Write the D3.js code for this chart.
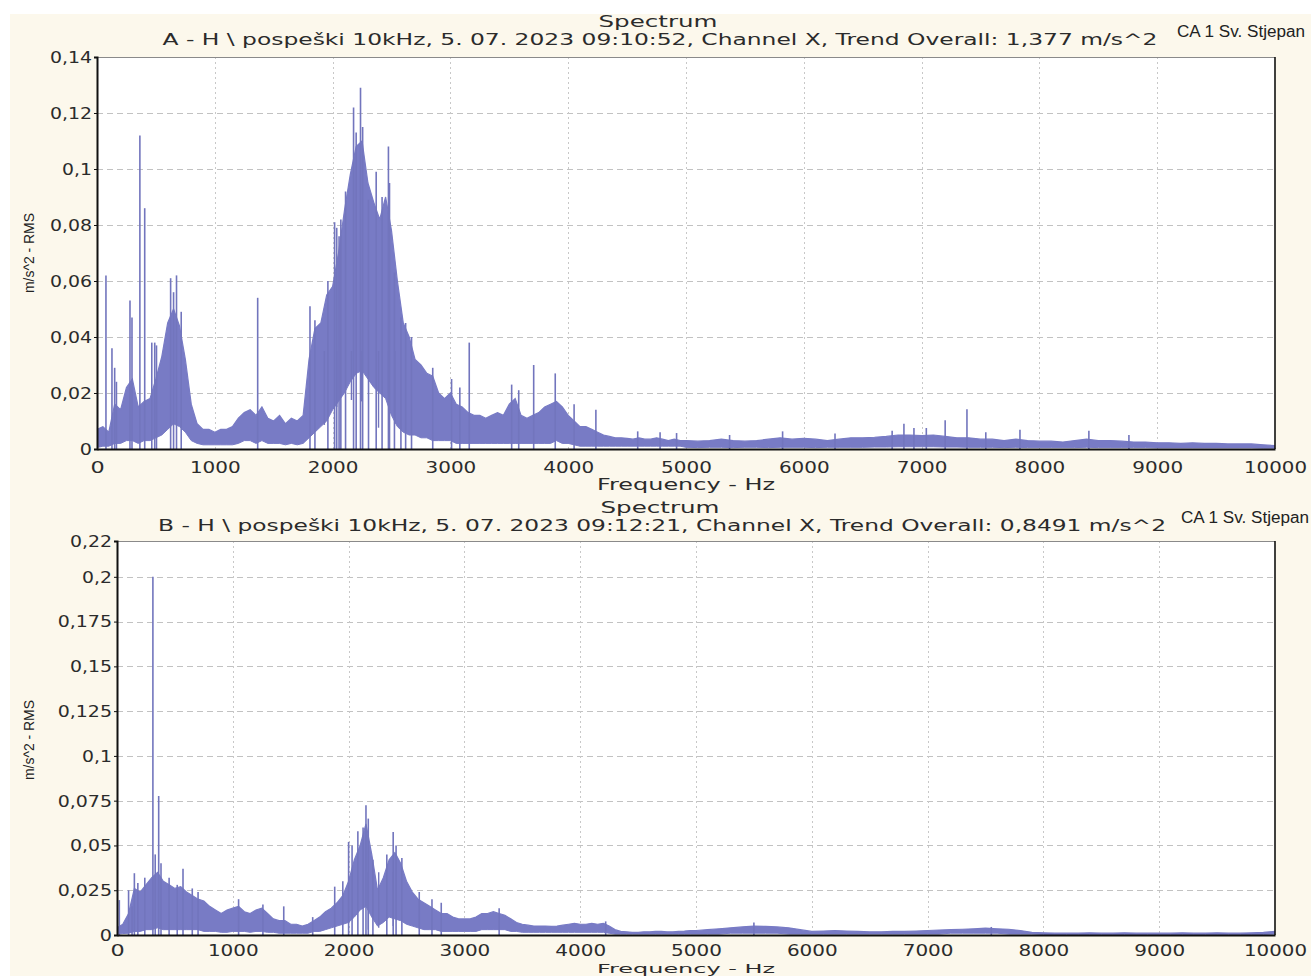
<!DOCTYPE html>
<html>
<head>
<meta charset="utf-8">
<script src="https://cdn.jsdelivr.net/npm/d3@7"></script>
<style>
  html, body { margin: 0; padding: 0; background: #ffffff; }
  svg { display: block; }
</style>
</head>
<body>
<svg id="chart" width="1311" height="976"></svg>
<script>
// ---------------- DATA ----------------
// frequency grid (Hz): 50 Hz steps up to 4950, then 100 Hz steps to 10000
const freqGrid = d3.range(0, 5000, 50).concat(d3.range(5000, 10001, 100));

// Chart A: upper / lower envelope of the spectrum band (m/s^2 RMS)
const hiA = [
  0.007, 0.008, 0.006, 0.016, 0.014, 0.022, 0.025, 0.015, 0.017, 0.018,
  0.025, 0.033, 0.045, 0.05, 0.044, 0.032, 0.016, 0.009, 0.007, 0.007,
  0.006, 0.007, 0.007, 0.008, 0.011, 0.013, 0.014, 0.012, 0.015, 0.011,
  0.01, 0.012, 0.009, 0.011, 0.01, 0.012, 0.032, 0.043, 0.045, 0.055,
  0.058, 0.07, 0.085, 0.098, 0.108, 0.11, 0.095, 0.088, 0.082, 0.09,
  0.078, 0.06, 0.045, 0.04, 0.032, 0.03, 0.027, 0.026, 0.02, 0.018,
  0.02, 0.016, 0.015, 0.013, 0.012, 0.012, 0.011, 0.012, 0.013, 0.012,
  0.016, 0.018, 0.012, 0.011, 0.012, 0.013, 0.015, 0.016, 0.017, 0.015,
  0.012, 0.01, 0.008, 0.008, 0.007, 0.006, 0.005, 0.0045, 0.004, 0.004,
  0.0038, 0.0035, 0.004, 0.0035, 0.0035, 0.004, 0.0035, 0.003, 0.0035, 0.003,
  0.003, 0.0028, 0.003, 0.0035, 0.003, 0.0028, 0.003, 0.0035, 0.004, 0.0035,
  0.0038, 0.0035, 0.003, 0.0035, 0.004, 0.004, 0.0042, 0.0045, 0.005, 0.005,
  0.0048, 0.005, 0.0045, 0.004, 0.004, 0.0035, 0.0035, 0.003, 0.0035, 0.003,
  0.0028, 0.0028, 0.0025, 0.003, 0.0035, 0.003, 0.003, 0.0028, 0.0025, 0.0025,
  0.0022, 0.0022, 0.002, 0.0022, 0.002, 0.002, 0.0018, 0.0018, 0.0018, 0.0015,
  0.0012
];
const loA = [
  0.0005, 0.001, 0.001, 0.002, 0.002, 0.003, 0.003, 0.002, 0.003, 0.003,
  0.004, 0.005, 0.007, 0.009, 0.008, 0.006, 0.003, 0.002, 0.0015, 0.0015,
  0.0015, 0.0015, 0.0015, 0.0015, 0.002, 0.003, 0.003, 0.002, 0.003, 0.002,
  0.002, 0.002, 0.0015, 0.002, 0.0015, 0.002, 0.004, 0.006, 0.008, 0.01,
  0.014, 0.017, 0.02, 0.024, 0.027, 0.028, 0.025, 0.022, 0.02, 0.018,
  0.012, 0.008, 0.006, 0.005, 0.005, 0.004, 0.004, 0.003, 0.003, 0.003,
  0.003, 0.002, 0.002, 0.002, 0.002, 0.002, 0.002, 0.002, 0.002, 0.002,
  0.002, 0.002, 0.002, 0.002, 0.002, 0.002, 0.002, 0.002, 0.003, 0.002,
  0.002, 0.0015, 0.001, 0.001, 0.001, 0.001, 0.001, 0.001, 0.001, 0.001,
  0.001, 0.001, 0.001, 0.001, 0.001, 0.001, 0.001, 0.001, 0.001, 0.001,
  0.0006, 0.0005, 0.0006, 0.0006, 0.0005, 0.0006, 0.0006, 0.0005, 0.0006, 0.0006,
  0.0006, 0.0005, 0.0006, 0.0006, 0.0006, 0.0006, 0.0007, 0.0007, 0.0008, 0.0008,
  0.0008, 0.0008, 0.0007, 0.0007, 0.0006, 0.0006, 0.0006, 0.0005, 0.0006, 0.0005,
  0.0005, 0.0005, 0.0005, 0.0005, 0.0006, 0.0005, 0.0005, 0.0005, 0.0005, 0.0005,
  0.0004, 0.0004, 0.0004, 0.0004, 0.0004, 0.0004, 0.0004, 0.0004, 0.0004, 0.0003,
  0.0003
];
// Chart A: narrow spectral lines rising above the band (Hz, m/s^2)
const spikeFreqA = [76, 127, 150, 165, 280, 297, 364, 405, 465, 490, 505, 625, 650, 675, 715,
  1364, 1808, 1850, 1960, 2017, 2035, 2055, 2070, 2110, 2178, 2200, 2237, 2255, 2305, 2370,
  2420, 2474, 2483, 2525, 2580, 2620, 2670, 2850, 3010, 3080, 3160, 3520, 3580, 3707, 3890,
  4050, 4235, 4590, 4780, 4920, 5370, 5820, 6265, 6750, 6850, 6935, 7040, 7200, 7385, 7545,
  7835, 8420, 8760];
const spikeValA = [0.062, 0.036, 0.029, 0.024, 0.053, 0.047, 0.112, 0.086, 0.038, 0.038, 0.037, 0.061, 0.056, 0.062, 0.049,
  0.054, 0.051, 0.046, 0.06, 0.081, 0.079, 0.076, 0.082, 0.092, 0.122, 0.113, 0.129, 0.115, 0.089, 0.099,
  0.09, 0.108, 0.095, 0.063, 0.047, 0.045, 0.04, 0.029, 0.025, 0.022, 0.038, 0.023, 0.021, 0.03, 0.027,
  0.016, 0.014, 0.0063, 0.006, 0.0057, 0.005, 0.0063, 0.0055, 0.0065, 0.009, 0.0075, 0.0075, 0.0103, 0.0142, 0.006,
  0.0069, 0.0065, 0.005];
// Chart A: lines dropping below the band's lower edge (Hz, m/s^2)
const dipFreqA = [1930, 2035, 2160, 2245, 2390, 2475, 2530];
const dipValA = [0.0086, 0.015, 0.0175, 0.017, 0.0076, 0.02, 0.009];

// Chart B
const hiB = [
  0.004, 0.006, 0.012, 0.026, 0.024, 0.028, 0.032, 0.035, 0.03, 0.028,
  0.026, 0.027, 0.024, 0.022, 0.02, 0.019, 0.016, 0.014, 0.012, 0.014,
  0.015, 0.016, 0.013, 0.012, 0.014, 0.015, 0.012, 0.009, 0.008, 0.008,
  0.006, 0.006, 0.005, 0.006, 0.008, 0.01, 0.013, 0.015, 0.018, 0.022,
  0.03, 0.042, 0.05, 0.062, 0.045, 0.025, 0.032, 0.042, 0.046, 0.04,
  0.03, 0.024, 0.02, 0.018, 0.016, 0.014, 0.012, 0.012, 0.01, 0.009,
  0.009, 0.009, 0.01, 0.012, 0.012, 0.013, 0.012, 0.011, 0.009, 0.007,
  0.006, 0.0055, 0.005, 0.005, 0.005, 0.0048, 0.005, 0.0055, 0.006, 0.0065,
  0.006, 0.006, 0.0065, 0.006, 0.0065, 0.005, 0.003, 0.002, 0.0018, 0.0015,
  0.0015, 0.0018, 0.0018, 0.002, 0.002, 0.0018, 0.0018, 0.002, 0.0022, 0.0025,
  0.0025, 0.003, 0.0035, 0.004, 0.0045, 0.005, 0.0048, 0.0045, 0.004, 0.003,
  0.002, 0.0022, 0.0025, 0.0022, 0.002, 0.0018, 0.0018, 0.002, 0.002, 0.0022,
  0.0025, 0.0028, 0.003, 0.0032, 0.0035, 0.0038, 0.0035, 0.0032, 0.0025, 0.0015,
  0.0012, 0.001, 0.001, 0.001, 0.0012, 0.001, 0.001, 0.0012, 0.001, 0.001,
  0.001, 0.001, 0.0012, 0.001, 0.001, 0.0012, 0.001, 0.001, 0.0012, 0.0015,
  0.002
];
const loB = [
  0.0005, 0.0008, 0.001, 0.002, 0.002, 0.003, 0.003, 0.004, 0.003, 0.003,
  0.003, 0.003, 0.003, 0.003, 0.003, 0.002, 0.002, 0.002, 0.0015, 0.0015,
  0.002, 0.002, 0.002, 0.0015, 0.002, 0.002, 0.0015, 0.0015, 0.001, 0.001,
  0.001, 0.001, 0.001, 0.001, 0.002, 0.002, 0.003, 0.004, 0.005, 0.006,
  0.007, 0.01, 0.014, 0.016, 0.01, 0.005, 0.007, 0.01, 0.009, 0.008,
  0.006, 0.005, 0.004, 0.003, 0.003, 0.003, 0.002, 0.002, 0.002, 0.002,
  0.002, 0.002, 0.002, 0.003, 0.003, 0.003, 0.003, 0.003, 0.002, 0.002,
  0.0015, 0.0015, 0.0015, 0.0015, 0.0015, 0.0015, 0.0015, 0.0015, 0.0015, 0.0015,
  0.0015, 0.0015, 0.0015, 0.0015, 0.0015, 0.001, 0.0005, 0.0005, 0.0005, 0.0005,
  0.0005, 0.0005, 0.0005, 0.0005, 0.0005, 0.0005, 0.0005, 0.0005, 0.0005, 0.0005,
  0.0005, 0.0005, 0.0005, 0.001, 0.001, 0.001, 0.001, 0.001, 0.0005, 0.0005,
  0.0005, 0.0005, 0.0005, 0.0005, 0.0005, 0.0005, 0.0005, 0.0005, 0.0005, 0.0005,
  0.0005, 0.0005, 0.001, 0.001, 0.001, 0.001, 0.001, 0.0005, 0.0005, 0.0005,
  0.0003, 0.0003, 0.0003, 0.0003, 0.0003, 0.0003, 0.0003, 0.0003, 0.0003, 0.0003,
  0.0003, 0.0003, 0.0003, 0.0003, 0.0003, 0.0003, 0.0003, 0.0003, 0.0003, 0.0003,
  0.0005
];
const spikeFreqB = [20, 100, 130, 150, 180, 240, 310, 330, 360, 380, 450, 520, 570, 650, 700,
  1050, 1260, 1440, 1690, 1880, 1950, 2000, 2030, 2080, 2125, 2150, 2170, 2210, 2330, 2385,
  2410, 2460, 2610, 2720, 2800, 3300, 4220, 5500, 7550];
const spikeValB = [0.0195, 0.025, 0.016, 0.0345, 0.029, 0.032, 0.2, 0.045, 0.0776, 0.04, 0.032, 0.028, 0.037, 0.026, 0.024,
  0.02, 0.017, 0.016, 0.01, 0.027, 0.03, 0.052, 0.05, 0.058, 0.06, 0.0725, 0.065, 0.042, 0.045, 0.0575,
  0.05, 0.043, 0.024, 0.02, 0.018, 0.015, 0.0076, 0.007, 0.0045];
const dipFreqB = [2170, 2260, 2385];
const dipValB = [0.003, 0.004, 0.005];

// Axis tick values & labels
const xTicks = [0, 1000, 2000, 3000, 4000, 5000, 6000, 7000, 8000, 9000, 10000];
const yTicksA = [0, 0.02, 0.04, 0.06, 0.08, 0.1, 0.12, 0.14];
const yLabelsA = ["0", "0,02", "0,04", "0,06", "0,08", "0,1", "0,12", "0,14"];
const yTicksB = [0, 0.025, 0.05, 0.075, 0.1, 0.125, 0.15, 0.175, 0.2, 0.22];
const yLabelsB = ["0", "0,025", "0,05", "0,075", "0,1", "0,125", "0,15", "0,175", "0,2", "0,22"];

const titleMain = "Spectrum";
const subtitleA = "A - H \\ pospe\u0161ki 10kHz, 5. 07. 2023 09:10:52, Channel X, Trend Overall: 1,377 m/s^2";
const subtitleB = "B - H \\ pospe\u0161ki 10kHz, 5. 07. 2023 09:12:21, Channel X, Trend Overall: 0,8491 m/s^2";
const siteLabel = "CA 1 Sv. Stjepan";
const xTitle = "Frequency - Hz";
const yTitle = "m/s^2 - RMS";

// ---------------- DRAW ----------------
const svg = d3.select("#chart");
const BAND = "#787bc5";
const LINE = "#7275bd";
const TICKFONT = "'DejaVu Sans', Verdana, sans-serif";
const TXT = "#2b2b2b";

svg.append("rect").attr("x", 10).attr("y", 14).attr("width", 1301).attr("height", 962).attr("fill", "#fcf8ec");

// width of a tick label in the reference's wide face
function labelWidth(s) {
  let w = 0;
  for (const c of s) w += (c === "," || c === ".") ? 5.5 : 12.2;
  return w;
}

function panel(o) {
  const x = d3.scaleLinear().domain([0, 10000]).range([o.left, o.right]);
  const y = d3.scaleLinear().domain([0, o.yMax]).range([o.bottom, o.top]);
  const g = svg.append("g");
  const clipId = "clip" + o.id;
  svg.append("clipPath").attr("id", clipId).append("rect")
    .attr("x", o.left).attr("y", o.top).attr("width", o.right - o.left).attr("height", o.bottom - o.top);

  g.append("rect").attr("x", o.left).attr("y", o.top).attr("width", o.right - o.left)
    .attr("height", o.bottom - o.top).attr("fill", "#ffffff");

  // grid
  g.append("g").selectAll("line").data(o.yTicks.filter(d => d > 0 && d < o.yMax)).join("line")
    .attr("x1", o.left).attr("x2", o.right).attr("y1", d => Math.round(y(d)) + 0.5).attr("y2", d => Math.round(y(d)) + 0.5)
    .attr("stroke", "#c2c2c2").attr("stroke-width", 1).attr("stroke-dasharray", "6,4");
  g.append("g").selectAll("line").data(xTicks.filter(d => d > 0 && d < 10000)).join("line")
    .attr("y1", o.top).attr("y2", o.bottom).attr("x1", d => Math.round(x(d)) + 0.5).attr("x2", d => Math.round(x(d)) + 0.5)
    .attr("stroke", "#c8c8c8").attr("stroke-width", 1).attr("stroke-dasharray", "2,3");

  // spectrum band
  const pts = freqGrid.map((f, i) => ({ f, hi: o.hi[i], lo: o.lo[i] }));
  const area = d3.area().x(d => x(d.f)).y0(d => y(d.lo)).y1(d => y(d.hi));
  const plot = g.append("g").attr("clip-path", `url(#${clipId})`);
  plot.append("path").datum(pts).attr("d", area).attr("fill", BAND);
  plot.append("path").datum(pts).attr("d", d3.line().x(d => x(d.f)).y(d => y(d.hi)))
    .attr("fill", "none").attr("stroke", BAND).attr("stroke-width", 1.2);
  plot.append("path").datum(pts).attr("d", d3.line().x(d => x(d.f)).y(d => y(d.lo)))
    .attr("fill", "none").attr("stroke", BAND).attr("stroke-width", 1);
  const spikes = o.spikeF.map((f, i) => ({ f, v: o.spikeV[i] }));
  plot.append("g").selectAll("line").data(spikes).join("line")
    .attr("x1", d => x(d.f)).attr("x2", d => x(d.f)).attr("y1", y(0)).attr("y2", d => y(d.v))
    .attr("stroke", LINE).attr("stroke-width", 1.6);
  const dips = o.dipF.map((f, i) => ({ f, v: o.dipV[i] }));
  plot.append("g").selectAll("line").data(dips).join("line")
    .attr("x1", d => x(d.f)).attr("x2", d => x(d.f)).attr("y1", d => y(d.v)).attr("y2", y(0.035))
    .attr("stroke", LINE).attr("stroke-width", 1.4);

  // frame
  g.append("line").attr("x1", o.left).attr("x2", o.right).attr("y1", o.top + 0.5).attr("y2", o.top + 0.5)
    .attr("stroke", "#8a8a8a").attr("stroke-width", 1);
  g.append("line").attr("x1", o.right).attr("x2", o.right).attr("y1", o.top).attr("y2", o.bottom)
    .attr("stroke", "#111").attr("stroke-width", 1.6);

  // axes
  const yAxis = d3.axisLeft(y).tickValues(o.yTicks).tickSize(3).tickPadding(2)
    .tickFormat((d, i) => o.yLabels[i]);
  const ya = g.append("g").attr("transform", `translate(${o.left},0)`).call(yAxis);
  ya.select(".domain").attr("stroke", "#111").attr("stroke-width", 2);
  ya.selectAll(".tick line").attr("stroke", "#111");
  ya.selectAll("text").attr("font-family", TICKFONT).attr("font-size", 15)
    .attr("fill", TXT).attr("dy", "0.36em")
    .attr("textLength", function () { return labelWidth(this.textContent); })
    .attr("lengthAdjust", "spacingAndGlyphs");

  const xAxis = d3.axisBottom(x).tickValues(xTicks).tickSize(0).tickFormat(d3.format("d"));
  const xa = g.append("g").attr("transform", `translate(0,${o.bottom})`).call(xAxis);
  xa.select(".domain").attr("stroke", "#111").attr("stroke-width", 2);
  xa.selectAll("text").attr("font-family", TICKFONT).attr("font-size", 15)
    .attr("fill", TXT).attr("y", o.xLabelY).attr("dy", null)
    .attr("textLength", function () { return labelWidth(this.textContent) + 2; })
    .attr("lengthAdjust", "spacingAndGlyphs");

  // titles
  g.append("text").attr("x", o.titleX).attr("y", o.titleY).attr("text-anchor", "middle")
    .attr("font-family", TICKFONT).attr("font-size", 15).attr("fill", TXT)
    .attr("textLength", 119).attr("lengthAdjust", "spacingAndGlyphs").text(titleMain);
  g.append("text").attr("x", o.subX).attr("y", o.titleY + 18).attr("text-anchor", "middle")
    .attr("font-family", TICKFONT).attr("font-size", 15).attr("fill", TXT)
    .attr("textLength", o.subLen).attr("lengthAdjust", "spacingAndGlyphs").text(o.subtitle);
  g.append("text").attr("x", o.siteX).attr("y", o.siteY)
    .attr("font-family", "'Liberation Sans', Arial, sans-serif").attr("font-size", 16).attr("fill", "#222")
    .attr("textLength", 128).attr("lengthAdjust", "spacingAndGlyphs").text(siteLabel);
  g.append("text").attr("x", 686).attr("y", o.xTitleY).attr("text-anchor", "middle")
    .attr("font-family", TICKFONT).attr("font-size", o.xTitleSize).attr("fill", TXT)
    .attr("textLength", 178).attr("lengthAdjust", "spacingAndGlyphs").text(xTitle);
  g.append("text").attr("transform", `translate(34,${o.yTitleCY}) rotate(-90)`).attr("text-anchor", "middle")
    .attr("font-family", "'Liberation Sans', Arial, sans-serif").attr("font-size", 15).attr("fill", "#222")
    .attr("textLength", 80).attr("lengthAdjust", "spacingAndGlyphs").text(yTitle);
}

panel({
  id: "A", left: 97, right: 1275, top: 57, bottom: 449, yMax: 0.14,
  yTicks: yTicksA, yLabels: yLabelsA, hi: hiA, lo: loA, spikeF: spikeFreqA, spikeV: spikeValA,
  dipF: dipFreqA, dipV: dipValA,
  xLabelY: 24, titleX: 658, titleY: 27, subX: 660, subLen: 995, subtitle: subtitleA,
  siteX: 1177, siteY: 37, xTitleY: 490, xTitleSize: 15, yTitleCY: 253
});
panel({
  id: "B", left: 117, right: 1275, top: 541, bottom: 935, yMax: 0.22,
  yTicks: yTicksB, yLabels: yLabelsB, hi: hiB, lo: loB, spikeF: spikeFreqB, spikeV: spikeValB,
  dipF: dipFreqB, dipV: dipValB,
  xLabelY: 21, titleX: 660, titleY: 513, subX: 662, subLen: 1008, subtitle: subtitleB,
  siteX: 1181, siteY: 523, xTitleY: 973, xTitleSize: 13, yTitleCY: 740
});
</script>
</body>
</html>
